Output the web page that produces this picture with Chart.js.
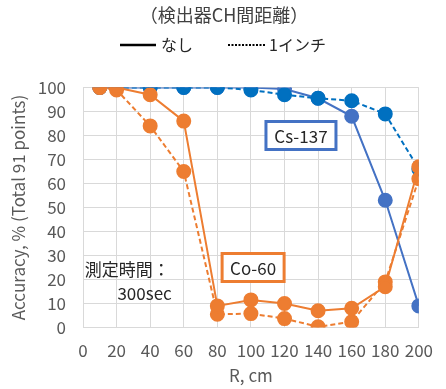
<!DOCTYPE html>
<html>
  <head>
    <title>Accuracy vs R</title>
    <script src="https://cdnjs.cloudflare.com/ajax/libs/Chart.js/4.4.1/chart.umd.min.js"></script>
    <style>
      body {
        margin: 0;
        background: #fff;
      }
      #wrap {
        width: 446px;
        height: 389px;
      }
    </style>
  </head>
  <body>
    <div id="wrap"><canvas id="chart"></canvas></div>

    <script>
      const FONT = '"Noto Sans CJK JP", sans-serif';

      // R (cm) for every measured point
      const rValues = [10, 20, 40, 60, 80, 100, 120, 140, 160, 180, 200];

      // Accuracy (%) per source and spacing
      const coNone = [100, 100, 97, 86, 9, 11.5, 10, 7, 8, 17, 67];
      const coInch = [100, 99, 84, 65, 5.5, 5.8, 3.7, 0.3, 2.4, 19, 62];
      const csNone = [100, 100, 100, 100, 100, 100, 99.4, 95.5, 88, 53, 9];
      const csInch = [100, 100, 100, 100, 100, 99, 97, 95.5, 94.5, 89, 66];

      const xTicks = [0, 20, 40, 60, 80, 100, 120, 140, 160, 180, 200];
      const yTicks = [0, 10, 20, 30, 40, 50, 60, 70, 80, 90, 100];

      const ORANGE = "#ED7D31";
      const BLUE = "#4472C4";
      const DARK_BLUE = "#0070C0";

      function toPoints(ys) {
        return rValues.map((r, i) => ({ x: r, y: ys[i] }));
      }

      function series(label, ys, color, dashed, order) {
        return {
          label: label,
          data: toPoints(ys),
          borderColor: color,
          backgroundColor: color,
          pointBackgroundColor: color,
          pointBorderColor: color,
          borderWidth: 2,
          borderDash: dashed ? [5, 3] : [],
          pointRadius: 6.5,
          pointHoverRadius: 6.5,
          showLine: true,
          tension: 0,
          order: order,
        };
      }

      // title, legend and the text boxes inside the plot
      const overlay = {
        id: "overlay",
        afterDraw(chart) {
          const ctx = chart.ctx;
          const xs = chart.scales.x;
          const ys = chart.scales.y;
          ctx.save();
          ctx.textBaseline = "middle";

          ctx.fillStyle = "#404040";
          ctx.font = "18px " + FONT;
          ctx.textAlign = "center";
          ctx.fillText("（検出器CH間距離）", 224, 15);

          // legend
          ctx.strokeStyle = "#000";
          ctx.lineWidth = 2.5;
          ctx.beginPath();
          ctx.moveTo(120, 45);
          ctx.lineTo(156, 45);
          ctx.stroke();
          ctx.setLineDash([2, 1.5]);
          ctx.lineWidth = 2;
          ctx.beginPath();
          ctx.moveTo(228, 45);
          ctx.lineTo(266, 45);
          ctx.stroke();
          ctx.setLineDash([]);
          ctx.fillStyle = "#262626";
          ctx.font = "16px " + FONT;
          ctx.textAlign = "left";
          ctx.fillText("なし", 161, 45);
          ctx.fillText("1インチ", 269, 45);

          function box(text, cx, cy, w, h, color) {
            const px = xs.getPixelForValue(cx);
            const py = ys.getPixelForValue(cy);
            ctx.fillStyle = "#fff";
            ctx.fillRect(px - w / 2, py - h / 2, w, h);
            ctx.strokeStyle = color;
            ctx.lineWidth = 3;
            ctx.strokeRect(px - w / 2, py - h / 2, w, h);
            ctx.fillStyle = "#262626";
            ctx.font = "17px " + FONT;
            ctx.textAlign = "center";
            ctx.fillText(text, px, py + 1);
          }
          box("Cs-137", 129.8, 80, 70, 28, BLUE);
          box("Co-60", 101.3, 25, 62, 28, ORANGE);

          ctx.fillStyle = "#262626";
          ctx.font = "17px " + FONT;
          ctx.textAlign = "left";
          ctx.fillText("測定時間：", xs.getPixelForValue(1), ys.getPixelForValue(24));
          ctx.fillText("300sec", xs.getPixelForValue(20.5), ys.getPixelForValue(14));
          ctx.restore();
        },
      };

      new Chart("chart", {
        type: "scatter",
        data: {
          datasets: [
            series("Co-60 なし", coNone, ORANGE, false, 1),
            series("Co-60 1インチ", coInch, ORANGE, true, 2),
            series("Cs-137 1インチ", csInch, DARK_BLUE, true, 3),
            series("Cs-137 なし", csNone, BLUE, false, 4),
          ],
        },
        options: {
          responsive: true,
          maintainAspectRatio: false,
          animation: false,
          layout: { padding: { top: 87.5, right: 22.5, left: 0, bottom: 0 } },
          plugins: {
            legend: { display: false },
            title: { display: false },
            tooltip: { enabled: false },
          },
          scales: {
            x: {
              type: "linear",
              min: 0,
              max: 200,
              afterBuildTicks(scale) {
                scale.ticks = xTicks.map((v) => ({ value: v }));
              },
              afterFit(scale) {
                scale.height = 61.5;
              },
              grid: { color: "#D9D9D9", drawTicks: false },
              border: { color: "#D9D9D9" },
              ticks: {
                padding: 13,
                maxRotation: 0,
                autoSkip: false,
                color: "#595959",
                font: { family: FONT, size: 17 },
              },
              title: {
                display: true,
                text: "R, cm",
                color: "#595959",
                padding: { top: 0, bottom: 3 },
                font: { family: FONT, size: 17 },
              },
            },
            y: {
              min: 0,
              max: 100,
              afterBuildTicks(scale) {
                scale.ticks = yTicks.map((v) => ({ value: v }));
              },
              afterFit(scale) {
                scale.width = 83;
              },
              grid: { color: "#D9D9D9", drawTicks: false },
              border: { color: "#D9D9D9" },
              ticks: {
                padding: 17,
                color: "#595959",
                font: { family: FONT, size: 17 },
              },
              title: {
                display: true,
                text: "Accuracy, % (Total 91 points)",
                color: "#595959",
                padding: { top: 8, bottom: 0 },
                font: { family: FONT, size: 17 },
              },
            },
          },
        },
        plugins: [overlay],
      });
    </script>
  </body>
</html>
